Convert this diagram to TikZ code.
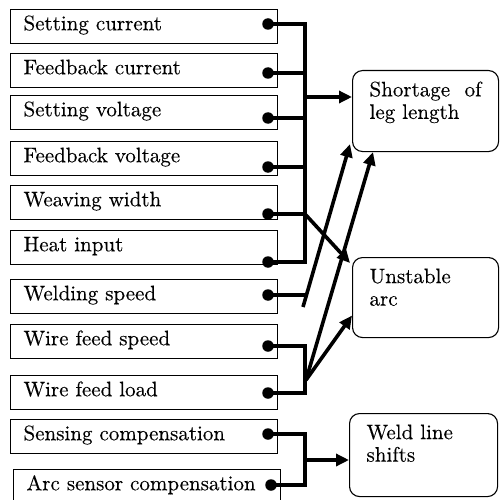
\documentclass[tikz,border=0pt]{standalone}
\usepackage{fontspec}
\setmainfont{lmroman10-regular}[Extension=.otf, FakeBold=0.25]
\usepackage{tikz}
\usetikzlibrary{arrows.meta,positioning,calc}

\begin{document}
\begin{tikzpicture}[x=1pt, y=-1pt,
    cause/.style={draw, line width=1.1pt, minimum width=267pt, minimum height=34pt,
                  inner xsep=13pt, inner ysep=0pt, anchor=north west,
                  font=\fontsize{21}{24}\selectfont, text height=0.82em, text depth=0.08em},
    effect/.style={draw, line width=1.1pt, rounded corners=10pt, anchor=north west,
                   inner xsep=17pt, inner ysep=11pt, font=\fontsize{21}{22.5}\selectfont},
    dot/.style={circle, fill, inner sep=0pt, minimum size=11.5pt},
    wire/.style={line width=3.6pt},
    arr/.style={-{Triangle[length=13pt, width=12pt]}, line width=3.6pt}
]
  \useasboundingbox (0,0) rectangle (499,500);

  % Causes stacked
  \node[cause] (setcur) at (10,9) {\makebox[241pt][l]{Setting current}};
  \node[dot] (d1) at (268,24) {};

  \node[cause] (fbcur) at (10,53) {\makebox[241pt][l]{Feedback current}};
  \node[dot] (d2) at (268,73) {};

  \node[cause] (setvol) at (10,95) {\makebox[241pt][l]{Setting voltage}};
  \node[dot] (d3) at (268,118) {};

  \node[cause] (fbvol) at (10,141) {\makebox[241pt][l]{Feedback voltage}};
  \node[dot] (d4) at (268,167) {};

  \node[cause] (weave) at (10,185) {\makebox[241pt][l]{Weaving width}};
  \node[dot] (d5) at (268,214) {};

  \node[cause] (heat) at (10,230) {\makebox[241pt][l]{Heat input}};
  \node[dot] (d6) at (268,262) {};

  \node[cause] (wspeed) at (10,279) {\makebox[241pt][l]{Welding speed}};
  \node[dot] (d7) at (268,295) {};

  \node[cause] (wfspeed) at (10,324) {\makebox[241pt][l]{Wire feed speed}};
  \node[dot] (d8) at (268,346) {};

  \node[cause] (wfload) at (10,375) {\makebox[241pt][l]{Wire feed load}};
  \node[dot] (d9) at (268,393) {};

  \node[cause] (senscomp) at (10,419) {\makebox[241pt][l]{Sensing compensation}};
  \node[dot] (d10) at (268,434) {};

  \node[cause] (arccomp) at (13,469) {\makebox[241pt][l]{Arc sensor compensation}};
  \node[dot] (d11) at (271,485) {};

  % Effects
  \node[effect] (short) at (352,70)
    {\parbox[t][59pt][t]{112pt}{Shortage\hfill of\\leg length}};
  \node[effect] (unst) at (352,257)
    {\parbox[t][58pt][t]{112pt}{Unstable\\arc}};
  \node[effect] (shift) at (349,413)
    {\parbox[t][61pt][t]{114pt}{Weld line\\shifts}};

  % Bus of the first six
  \coordinate (busa) at (305,262);
  \draw[wire] (d1.center) -| (busa) -- (d6.center);
  \draw[wire] (d2.center) -- (d2 -| busa);
  \draw[wire] (d3.center) -- (d3 -| busa);
  \draw[wire] (d4.center) -- (d4 -| busa);
  \draw[wire] (d5.center) -- (d5 -| busa);
  \coordinate (ja) at (305,97);
  \draw[arr] (ja) -- (ja -| short.west);
  \draw[arr] (d5 -| busa) -- ($(unst.north west)+(-2,6)$);

  % Welding speed
  \draw[wire] (d7.center) -- (d7 -| busa);
  \draw[arr] ($(d7 -| busa)+(-2,12)$) -- ($(short.south west)+(-2,-8)$);

  % Wire feed
  \coordinate (busb) at (305,393);
  \draw[wire] (d8.center) -| (busb) -- (d9.center);
  \coordinate (jb) at (306,380);
  \draw[arr] (jb) -- ($(short.south west)+(21,0)$);
  \draw[arr] (jb) -- ($(unst.west)+(0,18)$);

  % Compensation
  \coordinate (busc) at (305,485);
  \draw[wire] (d10.center) -| (busc) -- (d11.center);
  \coordinate (jc) at (305,460);
  \draw[arr] (jc) -- (jc -| shift.west);
\end{tikzpicture}
\end{document}
